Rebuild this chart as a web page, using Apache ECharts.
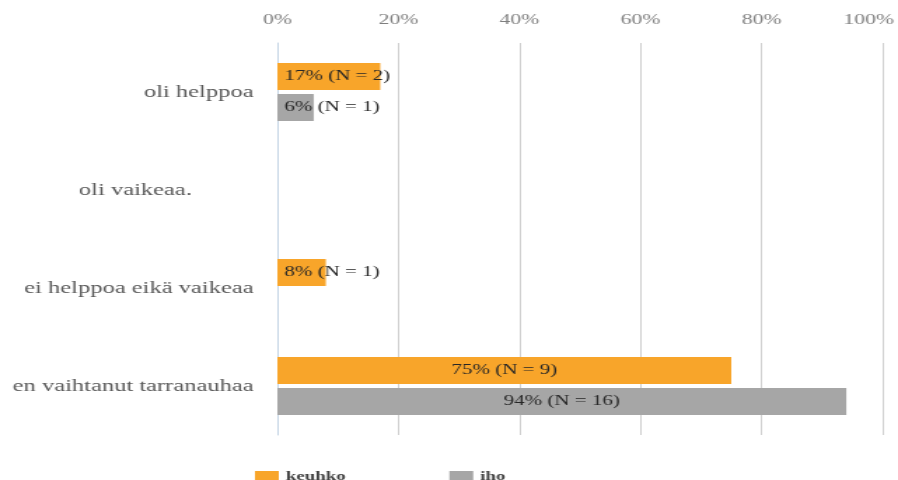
<!DOCTYPE html>
<html>
<head>
<meta charset="utf-8">
<script src="https://cdn.jsdelivr.net/npm/echarts@6/dist/echarts.min.js"></script>
<style>
  html, body { margin: 0; padding: 0; background: #ffffff; }
  #wrap { width: 898px; height: 480px; overflow: hidden; position: relative; }
  /* the chart is laid out narrow and widened horizontally */
  #chart { width: 641px; height: 480px; transform: scaleX(1.40094); transform-origin: 0 0; }
</style>
</head>
<body>
<div id="wrap"><div id="chart"></div></div>
<script>
const categories = ['oli helppoa', 'oli vaikeaa.', 'ei helppoa eikä vaikeaa', 'en vaihtanut tarranauhaa'];
const seriesNames = ['keuhko', 'iho'];
const keuhkoPct = [17, 0, 8, 75];
const keuhkoN = [2, 0, 1, 9];
const ihoPct = [6, 0, 0, 94];
const ihoN = [1, 0, 0, 16];
const tickValues = [0, 20, 40, 60, 80, 100];

const serif = '"Liberation Serif", "Times New Roman", serif';

function barData(pcts, ns) {
  return pcts.map(function (v, i) {
    const item = { value: v, n: ns[i] };
    if (v === 0) {
      item.label = { show: false };
    } else {
      item.label = { position: v < 30 ? 'insideLeft' : 'inside' };
    }
    return item;
  });
}

const labelStyle = {
  show: true,
  fontFamily: serif,
  fontSize: 15,
  color: '#262626',
  distance: 5,
  formatter: function (p) { return p.value + '% (N = ' + p.data.n + ')'; }
};

const tickFont = { fontFamily: serif, fontSize: 15.5, color: '#7f7f7f' };
const catFont = { fontFamily: serif, fontSize: 17.5, color: '#595959' };

const chart = echarts.init(document.getElementById('chart'), null, { renderer: 'canvas' });
chart.setOption({
  animation: false,
  backgroundColor: '#ffffff',
  grid: { left: 198, right: 11, top: 43, bottom: 45, containLabel: false, outerBoundsMode: 'none' },
  legend: {
    left: 177,
    top: 465,
    itemWidth: 17,
    itemHeight: 12,
    itemGap: 74,
    icon: 'rect',
    data: seriesNames,
    textStyle: { fontFamily: serif, fontWeight: 'bold', fontSize: 13.5, color: '#404040' }
  },
  xAxis: {
    type: 'value',
    position: 'top',
    min: tickValues[0],
    max: tickValues[tickValues.length - 1],
    interval: tickValues[1] - tickValues[0],
    axisLine: { show: false },
    axisTick: { show: false },
    axisLabel: Object.assign({
      margin: 15,
      // the last tick label is kept inside the right edge
      formatter: function (v) {
        return v === tickValues[tickValues.length - 1] ? '{edge|' + v + '%}' : v + '%';
      },
      rich: { edge: Object.assign({ padding: [0, 20, 0, 0] }, tickFont) }
    }, tickFont),
    splitLine: { show: true, lineStyle: { color: '#d0d0d0', width: 1 } }
  },
  yAxis: {
    type: 'category',
    inverse: true,
    data: categories,
    axisLine: { show: true, lineStyle: { color: '#c6d6e6', width: 1 } },
    axisTick: { show: false },
    axisLabel: Object.assign({
      margin: 17,
      formatter: function (v) {
        return v === categories[1] ? '{pad|' + v + '}' : v;
      },
      rich: { pad: Object.assign({ padding: [0, 44, 0, 0] }, catFont) }
    }, catFont)
  },
  series: [
    {
      name: seriesNames[0],
      type: 'bar',
      barWidth: 27,
      barGap: '15%',
      itemStyle: { color: '#F8A52A' },
      label: labelStyle,
      data: barData(keuhkoPct, keuhkoN)
    },
    {
      name: seriesNames[1],
      type: 'bar',
      barWidth: 27,
      barGap: '15%',
      itemStyle: { color: '#A6A6A6' },
      label: labelStyle,
      data: barData(ihoPct, ihoN)
    }
  ]
});
</script>
</body>
</html>
